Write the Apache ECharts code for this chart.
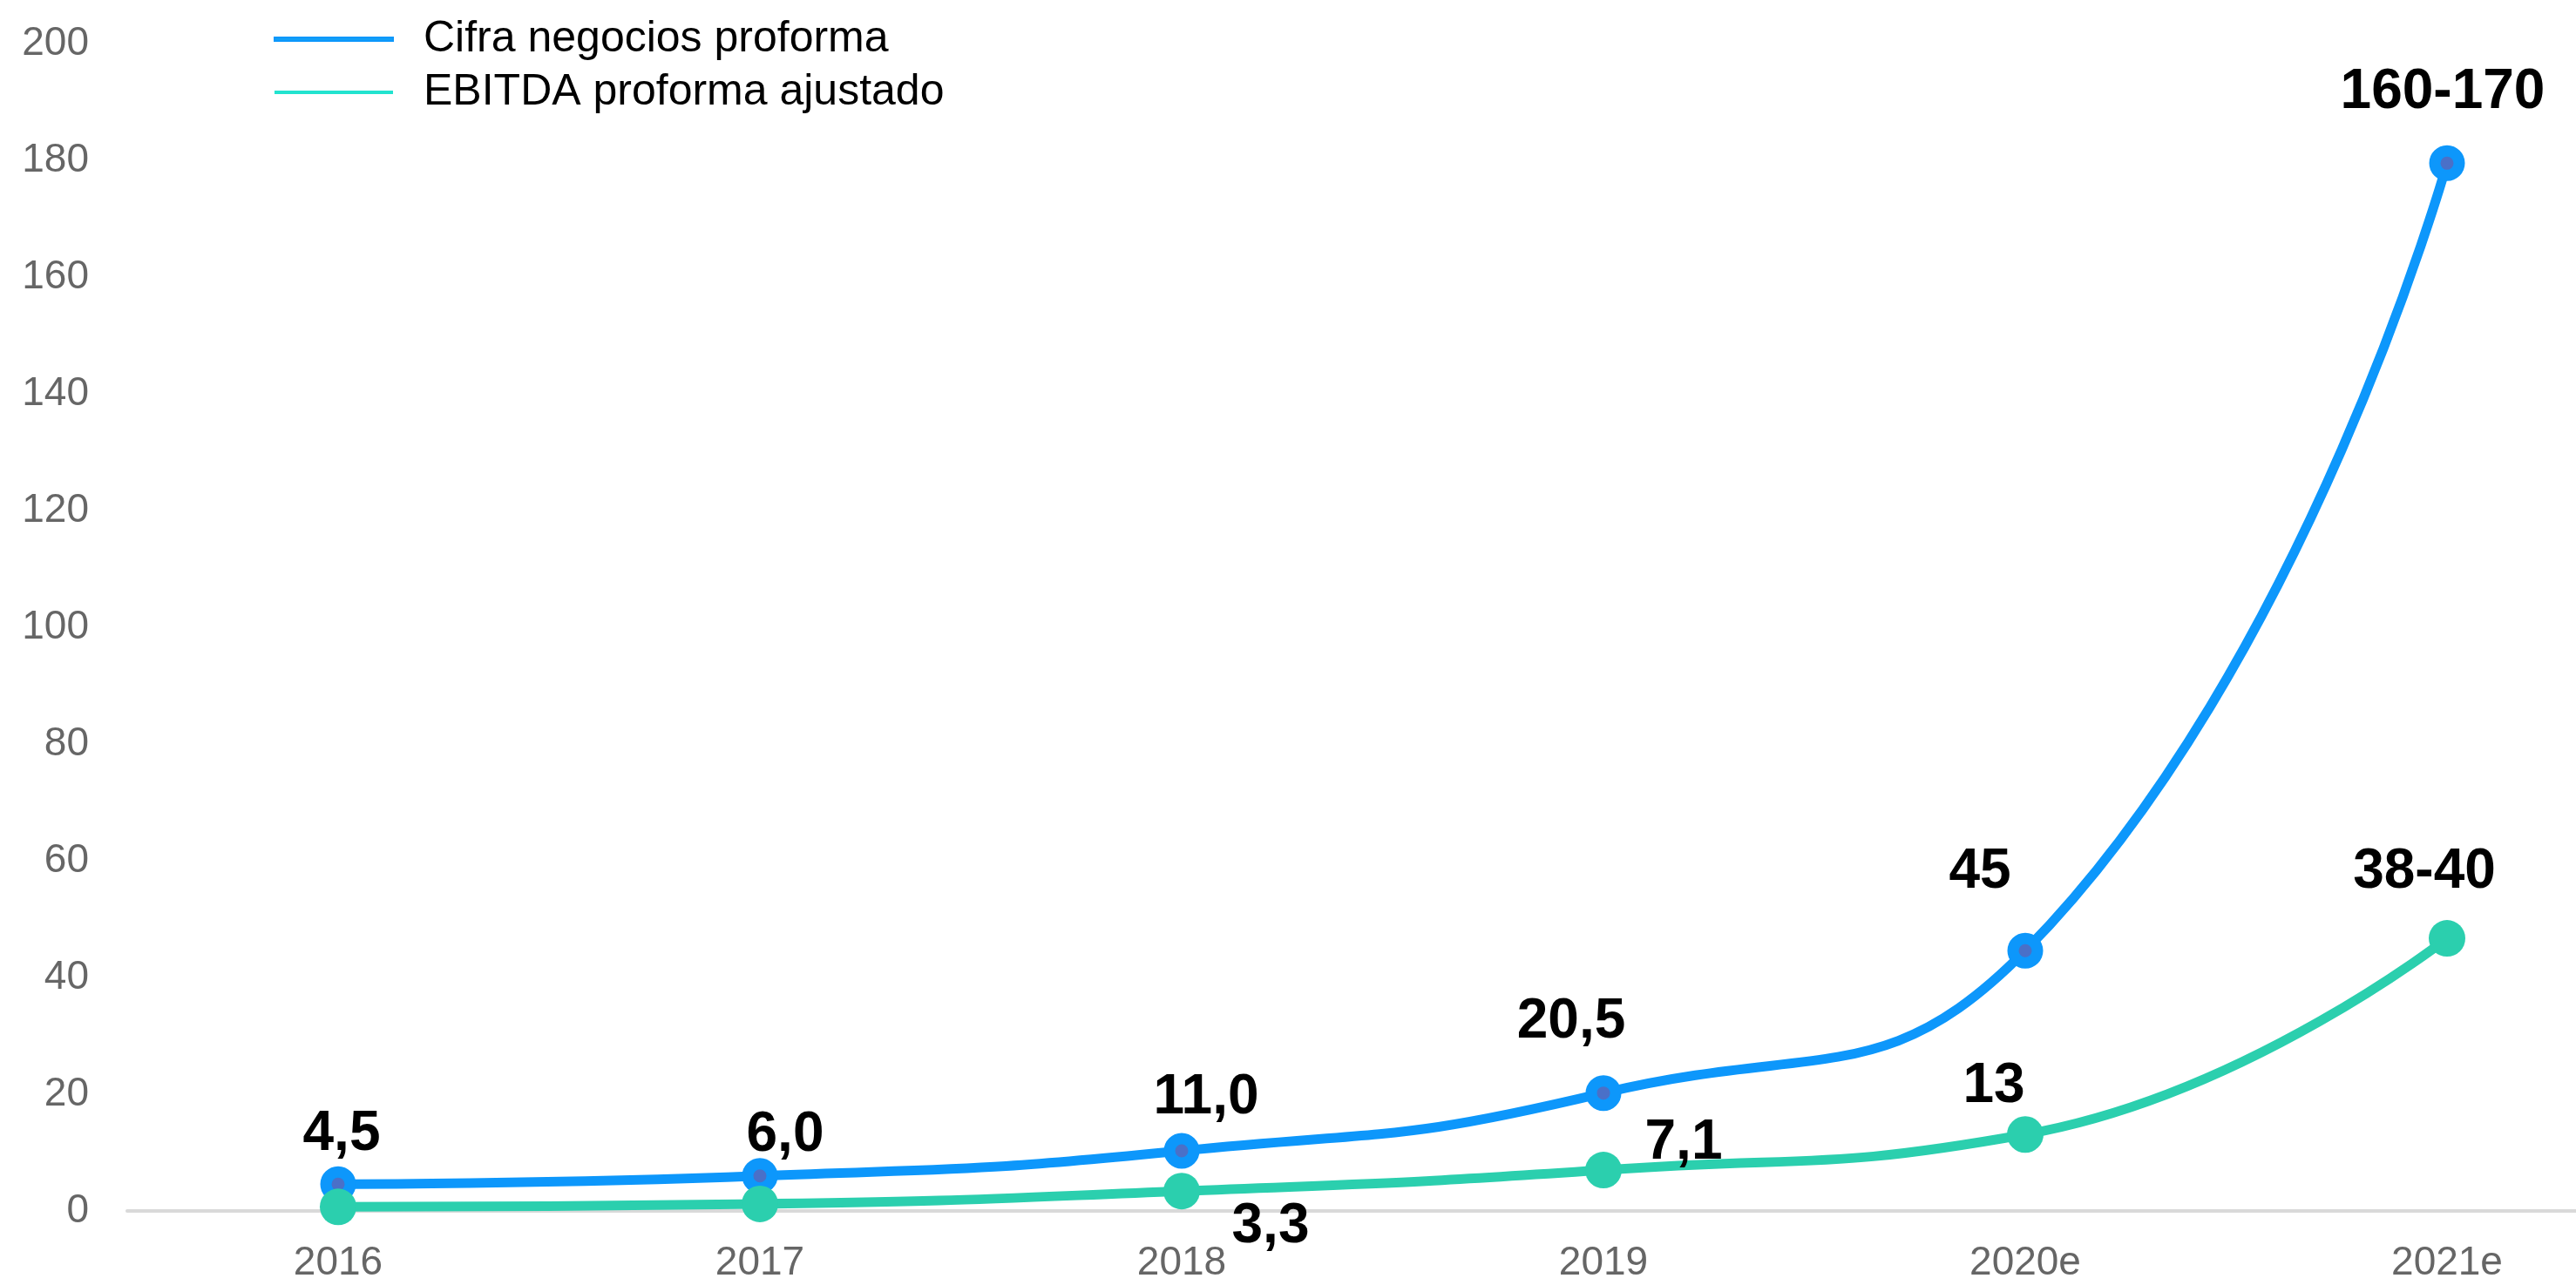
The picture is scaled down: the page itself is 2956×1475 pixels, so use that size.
<!DOCTYPE html>
<html>
<head>
<meta charset="utf-8">
<script src="https://cdn.jsdelivr.net/npm/echarts@6/dist/echarts.min.js"></script>
<style>
  html, body { margin: 0; padding: 0; background: #fff; }
  #chart { width: 2956px; height: 1475px; }
</style>
</head>
<body>
<div id="chart"></div>
<script>
// datos
var years = ['2016', '2017', '2018', '2019', '2020e', '2021e'];
var cifraValues = [4.6, 6.0, 10.3, 20.2, 44.6, 179.5];
var ebitdaValues = [0.7, 1.2, 3.4, 7.0, 13.1, 46.7];
var cifraLabels = ['4,5', '6,0', '11,0', '20,5', '45', '160-170'];
var ebitdaLabels = ['', '', '3,3', '7,1', '13', '38-40'];
var yTicks = [0, 20, 40, 60, 80, 100, 120, 140, 160, 180, 200];

// desplazamiento de cada etiqueta respecto a su punto (px)
var cifraOffsets = [[4, -57], [29, -46], [28, -61], [-37, -81], [-52, -90], [-5, -81]];
var ebitdaOffsets = [[0, 0], [0, 0], [102, 41], [92, -31], [-36, -55], [-26, -76]];

function buildData(values, offsets) {
	return values.map(function(v, i) {
		return { value: v, label: { offset: offsets[i] } };
	});
}

var myChart = echarts.init(document.getElementById('chart'));

var labelStyle = {
	show: true,
	position: 'inside',
	fontFamily: 'Liberation Sans, Arial, sans-serif',
	fontWeight: 'bold',
	fontSize: 64,
	color: '#000'
};

var option = {
	animation: false,
	backgroundColor: '#fff',
	legend: {
		orient: 'vertical',
		left: 309,
		top: 15,
		itemWidth: 136,
		itemHeight: 4,
		itemGap: 11,
		icon: 'rect',
		textStyle: {
			fontFamily: 'Liberation Sans, Arial, sans-serif',
			fontSize: 50,
			color: '#000',
			padding: [0, 0, 0, 30]
		},
		data: [
			{ name: 'Cifra negocios proforma', itemStyle: { color: '#12a0f6' } },
			{ name: 'EBITDA proforma ajustado', itemStyle: { color: '#22e3cf' } }
		]
	},
	grid: { //posicion
		left: 146,
		top: 50,
		width: 2904,
		height: 1340,
		outerBoundsMode: 'none'
	},
	xAxis: {
		type: 'category',
		data: years,
		boundaryGap: true,
		axisLine: {
			lineStyle: { color: '#d9d9d9', width: 4 }
		},
		axisTick: { show: false },
		splitLine: { show: false },
		axisLabel: {
			color: '#666',
			fontFamily: 'Liberation Sans, Arial, sans-serif',
			fontSize: 46,
			margin: 37
		}
	},
	yAxis: {
		type: 'value',
		min: yTicks[0],
		max: yTicks[yTicks.length - 1],
		interval: yTicks[1] - yTicks[0],
		axisLine: { show: false },
		axisTick: { show: false },
		splitLine: { show: false },
		axisLabel: {
			color: '#666',
			fontFamily: 'Liberation Sans, Arial, sans-serif',
			fontSize: 46,
			margin: 44
		}
	},
	series: [
		{
			name: 'Cifra negocios proforma',
			type: 'line',
			smooth: true,
			symbol: 'circle',
			symbolSize: 28,
			lineStyle: { color: '#0d97fb', width: 11 },
			itemStyle: {
				color: '#4a70c8',
				borderColor: '#0d97fb',
				borderWidth: 13
			},
			label: Object.assign({}, labelStyle, {
				formatter: function(p) { return cifraLabels[p.dataIndex]; }
			}),
			data: buildData(cifraValues, cifraOffsets)
		},
		{
			name: 'EBITDA proforma ajustado',
			type: 'line',
			smooth: true,
			symbol: 'circle',
			symbolSize: 42,
			lineStyle: { color: '#2bcfae', width: 11 },
			itemStyle: { color: '#2bcfae' },
			label: Object.assign({}, labelStyle, {
				formatter: function(p) { return ebitdaLabels[p.dataIndex]; }
			}),
			data: buildData(ebitdaValues, ebitdaOffsets)
		}
	]
};

myChart.setOption(option);

window.addEventListener('resize', function() {
	myChart.resize();
});
</script>
</body>
</html>
